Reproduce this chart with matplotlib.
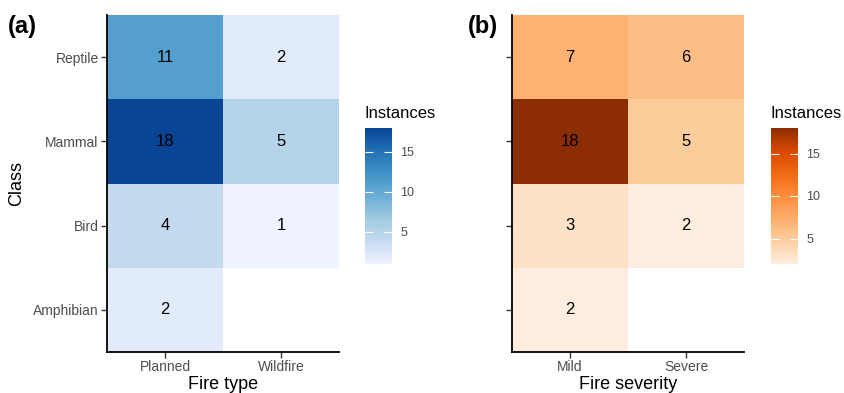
import numpy as np
import matplotlib
matplotlib.use("Agg")
import matplotlib.pyplot as plt
from matplotlib.colors import LinearSegmentedColormap, Normalize

plt.rcParams['font.family'] = ['Liberation Sans', 'DejaVu Sans']

# Data
classes = ["Amphibian", "Bird", "Mammal", "Reptile"]  # bottom to top
fire_types = ["Planned", "Wildfire"]
severities = ["Mild", "Severe"]

# rows follow `classes`; NaN = no observations
type_counts = np.array([
    [2, np.nan],
    [4, 1],
    [18, 5],
    [11, 2],
])
severity_counts = np.array([
    [2, np.nan],
    [3, 2],
    [18, 5],
    [7, 6],
])

blues = LinearSegmentedColormap.from_list(
    "blues7", ["#EFF3FF", "#C6DBEF", "#9ECAE1", "#6BAED6", "#4292C6", "#2171B5", "#084594"])
oranges = LinearSegmentedColormap.from_list(
    "oranges7", ["#FEEDDE", "#FDD0A2", "#FDAE6B", "#FD8D3C", "#F16913", "#D94801", "#8C2D04"])

W, H = 844, 393
fig = plt.figure(figsize=(W / 100, H / 100), dpi=100)


def fx(px):
    return px / W


def fy(py):
    return 1 - py / H


TICK_GREY = "#4D4D4D"


def panel(left_px, cbar_px, counts, cols, cmap, xlabel, tag, tag_x, show_ylabels):
    ax = fig.add_axes([fx(left_px), fy(352), fx(232), 337 / H])
    data = np.ma.masked_invalid(counts)
    norm = Normalize(vmin=np.nanmin(counts), vmax=np.nanmax(counts))
    mesh = ax.pcolormesh(np.arange(len(cols) + 1), np.arange(len(classes) + 1),
                         data, cmap=cmap, norm=norm, edgecolors="none")
    for i in range(counts.shape[0]):
        for j in range(counts.shape[1]):
            if not np.isnan(counts[i, j]):
                ax.text(j + 0.5, i + 0.5, f"{int(counts[i, j])}", ha="center", va="center",
                        fontsize=12, color="black")
    ax.set_xlim(0, len(cols))
    ax.set_ylim(0, len(classes))
    ax.set_xticks(np.arange(len(cols)) + 0.5)
    ax.set_xticklabels(cols)
    ax.set_yticks(np.arange(len(classes)) + 0.5)
    if show_ylabels:
        ax.set_yticklabels(classes)
        ax.set_ylabel("Class", fontsize=13, labelpad=6)
    else:
        ax.set_yticklabels([])
    ax.set_xlabel(xlabel, fontsize=13, labelpad=1)
    for s in ["top", "right"]:
        ax.spines[s].set_visible(False)
    for s in ["left", "bottom"]:
        ax.spines[s].set_linewidth(1.3)
        ax.spines[s].set_color("black")
    ax.tick_params(axis="both", length=4, width=1, color="#333333",
                   labelsize=10, labelcolor=TICK_GREY, pad=2)

    cax = fig.add_axes([fx(cbar_px), fy(264), fx(27), 136 / H])
    cb = fig.colorbar(mesh, cax=cax)
    cb.outline.set_visible(False)
    cb.set_ticks([5, 10, 15])
    cax.tick_params(axis="y", which="both", left=True, right=True, direction="in",
                    length=5.5, width=0.8, color="white", labelsize=9,
                    labelcolor=TICK_GREY, pad=6)
    cax.minorticks_off()
    fig.text(fx(cbar_px), fy(118), "Instances", fontsize=12, ha="left", va="baseline")
    fig.text(fx(tag_x), fy(33), tag, fontsize=17, fontweight="bold", ha="left", va="baseline")
    return ax


panel(107, 365, type_counts, fire_types, blues, "Fire type", "(a)", 8, True)
panel(512, 771, severity_counts, severities, oranges, "Fire severity", "(b)", 468, False)

fig.savefig("out.png", dpi=100)
